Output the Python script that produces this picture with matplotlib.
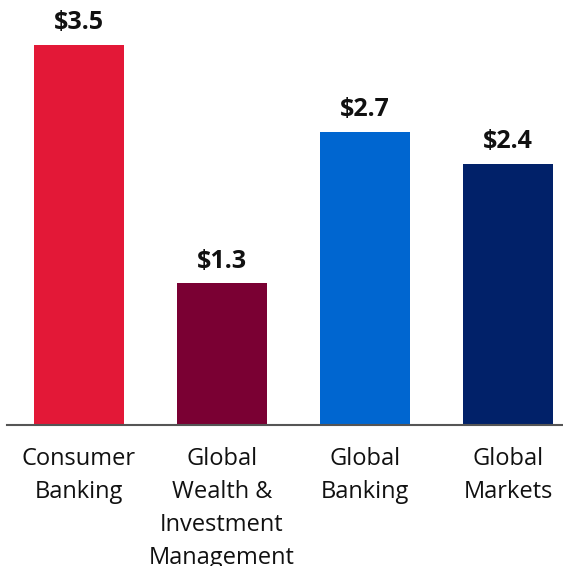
import matplotlib
matplotlib.use("Agg")
import matplotlib.pyplot as plt

categories = ["Consumer\nBanking", "Global\nWealth &\nInvestment\nManagement", "Global\nBanking", "Global\nMarkets"]
values = [3.5, 1.3, 2.7, 2.4]
value_labels = ["$3.5", "$1.3", "$2.7", "$2.4"]
colors = ["#E31837", "#7A0033", "#0066D0", "#012169"]

plt.rcParams['font.family'] = ['Open Sans', 'DejaVu Sans']

fig = plt.figure(figsize=(5.63, 5.66), dpi=100)
ax = fig.add_axes([7/563, 1 - 424.5/566, 1 - 7/563, 424.5/566])
x = list(range(len(values)))
ax.bar(x, values, width=0.63, color=colors)
ax.set_xlim(-0.503, 3.385)
ax.set_ylim(0, 424.5/108.5)
for xi, v, lab in zip(x, values, value_labels):
    ax.annotate(lab, (xi, v), xytext=(0, 7), textcoords="offset points",
                ha="center", va="bottom", fontsize=18, fontweight="bold", color="#111111")
ax.set_xticks(x)
ax.set_xticklabels(categories, fontsize=17, color="#111111", linespacing=1.5)
ax.tick_params(axis='x', length=0, pad=16)
ax.set_yticks([])
for s in ["top", "right", "left"]:
    ax.spines[s].set_visible(False)
ax.spines["bottom"].set_color("#555555")
ax.spines["bottom"].set_linewidth(1.5)
fig.savefig("out.png", dpi=100)
